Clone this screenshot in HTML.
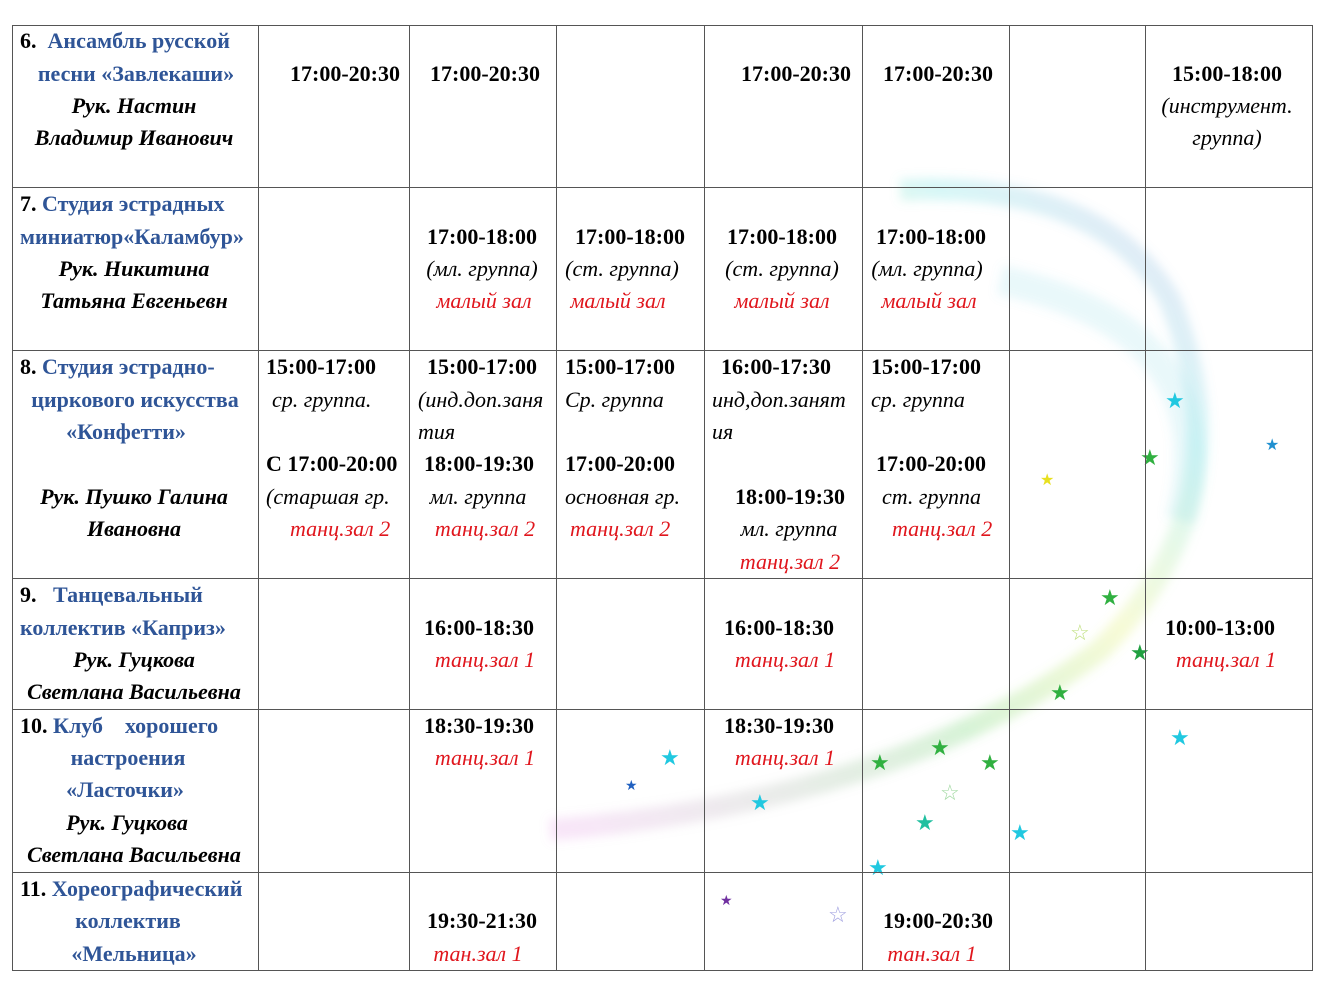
<!DOCTYPE html>
<html><head><meta charset="utf-8">
<style>
body{margin:0;width:1344px;height:1008px;background:#fff;position:relative;overflow:hidden;font-family:"Liberation Serif",serif;font-size:22px;font-weight:bold;color:#000}
.v{position:absolute;background:#555;width:1px;top:25px;height:946px}
.h{position:absolute;background:#555;height:1px;left:12px;width:1301px}
.t{position:absolute;white-space:nowrap;line-height:32px;height:32px}
.c{transform:translateX(-50%)}
.b{color:#2f5597}
.i{font-style:italic}
.r{color:#e0161d;font-style:italic;font-weight:normal}
.n{font-weight:normal;font-style:italic}
</style></head><body>
<svg style="position:absolute;left:0;top:0" width="1344" height="1008">
<defs><linearGradient id="g" x1="0" y1="1" x2="1" y2="0">
<stop offset="0" stop-color="#e080e0" stop-opacity="0.2"/><stop offset="0.4" stop-color="#60d060" stop-opacity="0.25"/><stop offset="0.6" stop-color="#e0f060" stop-opacity="0.25"/><stop offset="0.8" stop-color="#60e0e0" stop-opacity="0.25"/><stop offset="1" stop-color="#8080d0" stop-opacity="0.2"/></linearGradient>
<filter id="bl"><feGaussianBlur stdDeviation="5"/></filter></defs>
<path d="M550 830 Q900 800 1100 650 Q1250 500 1170 300 Q1100 180 900 190" fill="none" stroke="url(#g)" stroke-width="22" filter="url(#bl)"/>
<path d="M1000 280 Q1230 330 1180 520" fill="none" stroke="#70d0e0" stroke-opacity="0.15" stroke-width="30" filter="url(#bl)"/>
<g font-size="22" font-weight="normal">
<text x="660" y="765" fill="#20c8e0">★</text><text x="750" y="810" fill="#20c8e0">★</text><text x="870" y="770" fill="#30b040">★</text><text x="930" y="755" fill="#30b040">★</text><text x="980" y="770" fill="#30b040">★</text><text x="915" y="830" fill="#20c0a0">★</text><text x="1010" y="840" fill="#20c8e0">★</text><text x="868" y="875" fill="#20c8e0">★</text><text x="1050" y="700" fill="#30b040">★</text><text x="1130" y="660" fill="#20a040">★</text><text x="1100" y="605" fill="#30b040">★</text><text x="1170" y="745" fill="#20c8e0">★</text><text x="1165" y="408" fill="#20c8e0">★</text><text x="1140" y="465" fill="#30b040">★</text><text x="1040" y="485" fill="#e8e020" font-size="16">★</text><text x="1265" y="450" fill="#2090d0" font-size="16">★</text><text x="625" y="790" fill="#2060c0" font-size="14">★</text><text x="720" y="905" fill="#7030a0" font-size="14">★</text><text x="828" y="922" fill="#a0a0e0">☆</text><text x="1070" y="640" fill="#c0e080">☆</text><text x="940" y="800" fill="#a0d8a0">☆</text></g>
</svg>
<div class="v" style="left:12px"></div><div class="v" style="left:258px"></div><div class="v" style="left:409px"></div><div class="v" style="left:556px"></div><div class="v" style="left:704px"></div><div class="v" style="left:862px"></div><div class="v" style="left:1009px"></div><div class="v" style="left:1145px"></div><div class="v" style="left:1312px"></div>
<div class="h" style="top:25px"></div><div class="h" style="top:187px"></div><div class="h" style="top:350px"></div><div class="h" style="top:578px"></div><div class="h" style="top:709px"></div><div class="h" style="top:872px"></div><div class="h" style="top:970px"></div>

<div class="t" style="left:20px;top:25px">6.&nbsp; <span class="b">Ансамбль русской</span></div>
<div class="t c b" style="left:136px;top:58px">песни «Завлекаши»</div>
<div class="t c i" style="left:134px;top:90px">Рук. Настин</div>
<div class="t c i" style="left:134px;top:122px">Владимир Иванович</div>
<div class="t c" style="left:345px;top:58px">17:00-20:30</div>
<div class="t c" style="left:485px;top:58px">17:00-20:30</div>
<div class="t c" style="left:796px;top:58px">17:00-20:30</div>
<div class="t c" style="left:938px;top:58px">17:00-20:30</div>
<div class="t c" style="left:1227px;top:58px">15:00-18:00</div>
<div class="t c n" style="left:1227px;top:90px">(инструмент.</div>
<div class="t c n" style="left:1227px;top:122px">группа)</div>

<div class="t" style="left:20px;top:188px">7. <span class="b">Студия эстрадных</span></div>
<div class="t b" style="left:20px;top:221px">миниатюр«Каламбур»</div>
<div class="t c i" style="left:134px;top:253px">Рук. Никитина</div>
<div class="t c i" style="left:134px;top:285px">Татьяна Евгеньевн</div>
<div class="t c" style="left:482px;top:221px">17:00-18:00</div>
<div class="t c n" style="left:482px;top:253px">(мл. группа)</div>
<div class="t c r" style="left:484px;top:285px">малый зал</div>
<div class="t c" style="left:630px;top:221px">17:00-18:00</div>
<div class="t c n" style="left:622px;top:253px">(ст. группа)</div>
<div class="t c r" style="left:618px;top:285px">малый зал</div>
<div class="t c" style="left:782px;top:221px">17:00-18:00</div>
<div class="t c n" style="left:782px;top:253px">(ст. группа)</div>
<div class="t c r" style="left:782px;top:285px">малый зал</div>
<div class="t c" style="left:931px;top:221px">17:00-18:00</div>
<div class="t c n" style="left:927px;top:253px">(мл. группа)</div>
<div class="t c r" style="left:929px;top:285px">малый зал</div>

<div class="t" style="left:20px;top:351px">8. <span class="b">Студия эстрадно-</span></div>
<div class="t c b" style="left:135px;top:384px">циркового искусства</div>
<div class="t c b" style="left:126px;top:416px">«Конфетти»</div>
<div class="t c i" style="left:134px;top:481px">Рук. Пушко Галина</div>
<div class="t c i" style="left:134px;top:513px">Ивановна</div>
<div class="t" style="left:266px;top:351px">15:00-17:00</div>
<div class="t n" style="left:272px;top:384px">ср. группа.</div>
<div class="t" style="left:266px;top:448px">С 17:00-20:00</div>
<div class="t n" style="left:266px;top:481px">(старшая гр.</div>
<div class="t r" style="left:290px;top:513px">танц.зал 2</div>
<div class="t c" style="left:482px;top:351px">15:00-17:00</div>
<div class="t n" style="left:418px;top:384px">(инд.доп.заня</div>
<div class="t n" style="left:418px;top:416px">тия</div>
<div class="t" style="left:424px;top:448px">18:00-19:30</div>
<div class="t c n" style="left:478px;top:481px">мл. группа</div>
<div class="t c r" style="left:485px;top:513px">танц.зал 2</div>
<div class="t" style="left:565px;top:351px">15:00-17:00</div>
<div class="t n" style="left:565px;top:384px">Ср. группа</div>
<div class="t" style="left:565px;top:448px">17:00-20:00</div>
<div class="t n" style="left:565px;top:481px">основная гр.</div>
<div class="t r" style="left:570px;top:513px">танц.зал 2</div>
<div class="t c" style="left:776px;top:351px">16:00-17:30</div>
<div class="t n" style="left:712px;top:384px">инд,доп.занят</div>
<div class="t n" style="left:712px;top:416px">ия</div>
<div class="t c" style="left:790px;top:481px">18:00-19:30</div>
<div class="t c n" style="left:789px;top:513px">мл. группа</div>
<div class="t c r" style="left:790px;top:546px">танц.зал 2</div>
<div class="t" style="left:871px;top:351px">15:00-17:00</div>
<div class="t n" style="left:871px;top:384px">ср. группа</div>
<div class="t" style="left:876px;top:448px">17:00-20:00</div>
<div class="t n" style="left:882px;top:481px">ст. группа</div>
<div class="t r" style="left:892px;top:513px">танц.зал 2</div>

<div class="t" style="left:20px;top:579px">9.&nbsp;&nbsp; <span class="b">Танцевальный</span></div>
<div class="t b" style="left:20px;top:612px">коллектив «Каприз»</div>
<div class="t c i" style="left:134px;top:644px">Рук. Гуцкова</div>
<div class="t c i" style="left:134px;top:676px">Светлана Васильевна</div>
<div class="t c" style="left:479px;top:612px">16:00-18:30</div>
<div class="t c r" style="left:485px;top:644px">танц.зал 1</div>
<div class="t c" style="left:779px;top:612px">16:00-18:30</div>
<div class="t c r" style="left:785px;top:644px">танц.зал 1</div>
<div class="t c" style="left:1220px;top:612px">10:00-13:00</div>
<div class="t c r" style="left:1226px;top:644px">танц.зал 1</div>

<div class="t" style="left:20px;top:710px">10. <span class="b">Клуб &nbsp;&nbsp; хорошего</span></div>
<div class="t c b" style="left:128px;top:742px">настроения</div>
<div class="t c b" style="left:125px;top:774px">«Ласточки»</div>
<div class="t c i" style="left:127px;top:807px">Рук. Гуцкова</div>
<div class="t c i" style="left:134px;top:839px">Светлана Васильевна</div>
<div class="t c" style="left:479px;top:710px">18:30-19:30</div>
<div class="t c r" style="left:485px;top:742px">танц.зал 1</div>
<div class="t c" style="left:779px;top:710px">18:30-19:30</div>
<div class="t c r" style="left:785px;top:742px">танц.зал 1</div>

<div class="t" style="left:20px;top:873px">11. <span class="b">Хореографический</span></div>
<div class="t c b" style="left:128px;top:905px">коллектив</div>
<div class="t c b" style="left:134px;top:938px">«Мельница»</div>
<div class="t c" style="left:482px;top:905px">19:30-21:30</div>
<div class="t c r" style="left:478px;top:938px">тан.зал 1</div>
<div class="t c" style="left:938px;top:905px">19:00-20:30</div>
<div class="t c r" style="left:932px;top:938px">тан.зал 1</div>
</body></html>
